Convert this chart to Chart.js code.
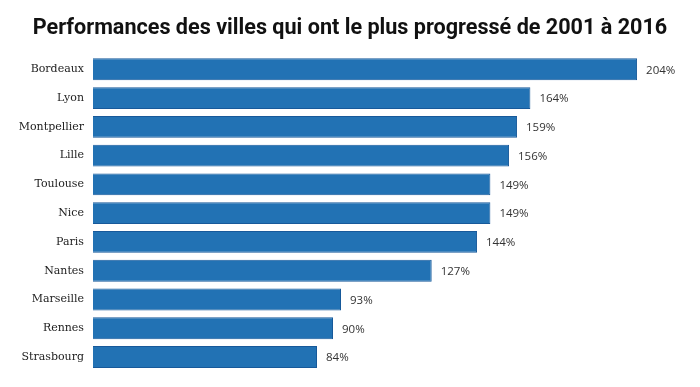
<!DOCTYPE html>
<html>
<head>
<meta charset="utf-8">
<script src="https://cdn.jsdelivr.net/npm/chart.js@4"></script>
<style>
  html, body { margin: 0; padding: 0; background: #fff; overflow: hidden; }
  canvas { display: block; }
</style>
</head>
<body>
<canvas id="chart" width="700" height="387"></canvas>
<script>
"use strict";

var villes = ["Bordeaux", "Lyon", "Montpellier", "Lille", "Toulouse", "Nice", "Paris", "Nantes", "Marseille", "Rennes", "Strasbourg"];
var progression = [204, 164, 159, 156, 149, 149, 144, 127, 93, 90, 84];

// value labels at the end of each bar
var valueLabels = {
    id: "valueLabels",
    afterDatasetsDraw: function (chart) {
        var ctx = chart.ctx;
        var meta = chart.getDatasetMeta(0);
        ctx.save();
        ctx.font = "11.5px 'Open Sans', sans-serif";
        ctx.fillStyle = "#333";
        ctx.textBaseline = "middle";
        ctx.textAlign = "left";
        meta.data.forEach(function (bar, i) {
            ctx.fillText(progression[i] + "%", bar.x + 9, bar.y + 1);
        });
        ctx.restore();
    }
};

var ctx = document.getElementById("chart").getContext("2d");
var myChart = new Chart(ctx, {
    type: "bar",
    data: {
        labels: villes,
        datasets: [{
            label: "Progression",
            data: progression,
            backgroundColor: "#2272b4",
            borderColor: "#17599a",
            borderWidth: 1,
            barPercentage: 0.76,
            categoryPercentage: 1
        }]
    },
    options: {
        indexAxis: "y",
        responsive: false,
        animation: false,
        layout: { padding: { left: 0, right: 0, bottom: 10, top: 0 } },
        plugins: {
            legend: { display: false },
            tooltip: { enabled: false },
            title: {
                display: true,
                text: "Performances des villes qui ont le plus progressé de 2001 à 2016",
                color: "#111",
                font: { family: "Roboto, sans-serif", size: 21.6, weight: "bold" },
                padding: { top: 16, bottom: 13 }
            }
        },
        scales: {
            x: {
                display: false,
                min: 0,
                max: 227.6
            },
            y: {
                grid: { display: false, drawTicks: false },
                border: { display: false },
                ticks: {
                    color: "#222",
                    padding: 9,
                    font: { family: "'DejaVu Serif', serif", size: 11 }
                },
                afterFit: function (scale) { scale.width = 93; }
            }
        }
    },
    plugins: [valueLabels]
});
</script>
</body>
</html>
